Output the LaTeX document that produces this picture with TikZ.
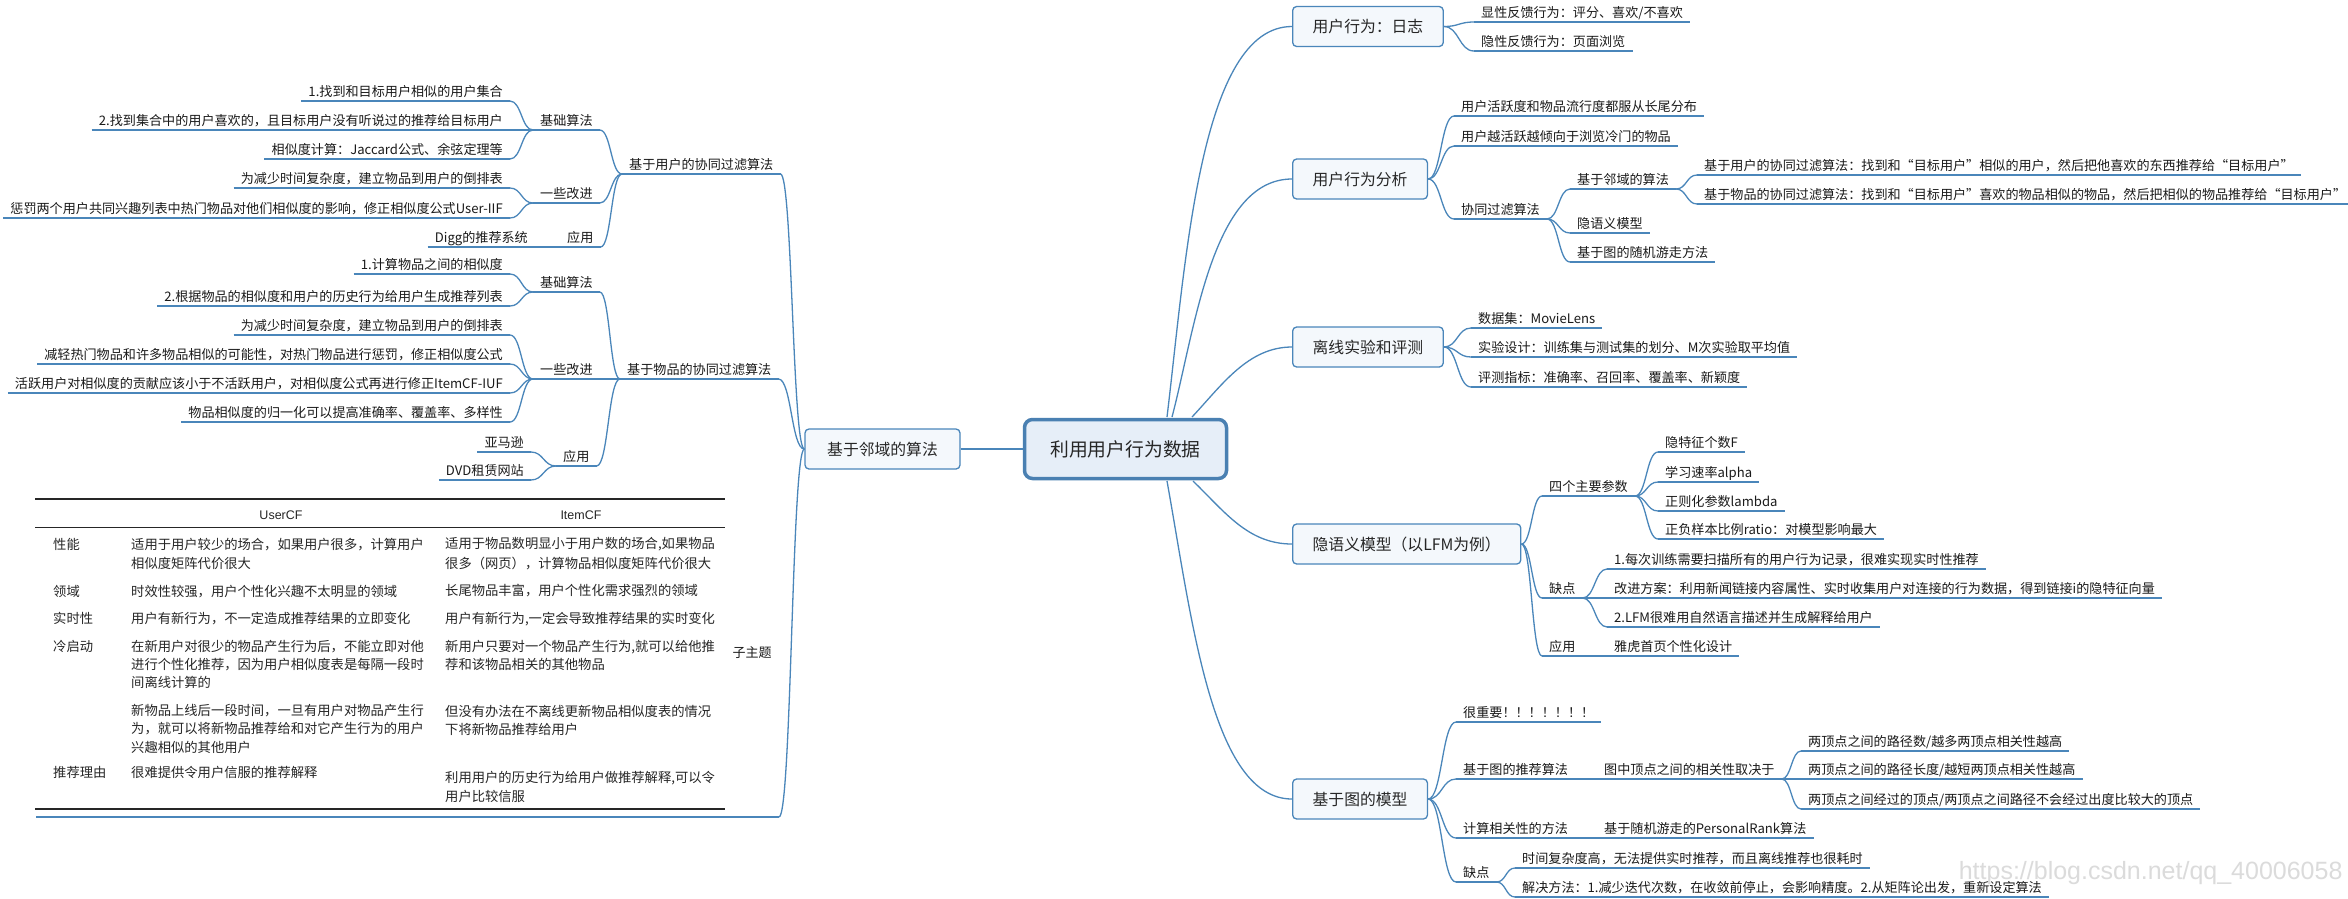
\documentclass[tikz,border=0pt]{standalone}
\usepackage{fontspec}
\setmainfont{Noto Sans CJK SC}
\newfontfamily\latinsans{Liberation Sans}
\usetikzlibrary{calc}

\definecolor{mmline}{HTML}{4A86BA}
\definecolor{boxfill}{HTML}{F4F8FC}
\definecolor{rootfill}{HTML}{E6EEF8}
\definecolor{rootline}{HTML}{4A80B2}
\definecolor{txt}{HTML}{1A1A1A}
\definecolor{tabtxt}{HTML}{262626}

% S-shaped branch between two points (horizontal tangents at both ends)
\newcommand\mmlink[2]{\draw[ln] let \p1=(#1), \p2=(#2) in
  (\p1) .. controls ({0.5*\x1+0.5*\x2},\y1) and ({0.5*\x1+0.5*\x2},\y2) .. (\p2);}
% underline of a label node
\newcommand\mmul[1]{\draw[ln] (#1.south west) -- (#1.south east);}

\begin{document}
\begin{tikzpicture}[x=1pt,y=-1pt,
  ln/.style={draw=mmline, line width=1.3pt},
  lbl/.style={font=\fontsize{13.1}{14}\selectfont, text=txt, inner xsep=7pt,
    inner ysep=4.5pt, text height=10pt, text depth=0pt},
  rl/.style={lbl, anchor=south west},
  ll/.style={lbl, anchor=south east},
  topic/.style={draw=mmline, line width=1.3pt, fill=boxfill, rounded corners=4pt,
    font=\fontsize{15.8}{18}\selectfont, text=black!85, inner xsep=20pt,
    inner ysep=0pt, minimum height=40pt, anchor=west},
  root/.style={draw=rootline, line width=3.5pt, fill=rootfill, rounded corners=8pt,
    font=\fontsize{18.8}{22}\selectfont, text=black!85, minimum width=202pt,
    minimum height=59pt},
  tc/.style={font=\fontsize{13.3}{15}\selectfont, text=tabtxt, anchor=west,
    inner sep=0pt, text height=10pt, text depth=0pt},
  th/.style={font=\latinsans\fontsize{12.5}{14}\selectfont, text=tabtxt},
  rule/.style={draw=black!85}
]
\fill[white] (0,0) rectangle (2348,898);
\useasboundingbox (0,0) rectangle (2348,898);

% watermark
\node[font=\latinsans\fontsize{25}{28}\selectfont, text=black!14, anchor=east]
  (wm) at (2346,873) {https://blog.csdn.net/qq\_40006058};

% ---------------- central topic ----------------
\node[root] (root) at (1125.5,449) {利用用户行为数据};
\node[topic, anchor=center, minimum width=155pt] (nb) at (882.5,449) {基于邻域的算法};
\draw[ln] (nb.east) -- (root.west);

% ---------------- main topics on the right ----------------
\node[topic] (b1) at (1292,26.5) {用户行为：日志};
\node[topic] (b2) at (1292,179) {用户行为分析};
\node[topic] (b3) at (1292,347) {离线实验和评测};
\node[topic] (b4) at (1292,544) {隐语义模型（以LFM为例）};
\node[topic] (b5) at (1292,799) {基于图的模型};

\coordinate (s1) at (1167,417);
\coordinate (s2) at (1172,417);
\coordinate (s3) at (1192,417);
\coordinate (s4) at (1193,481);
\coordinate (s5) at (1167,481);
\draw[ln] (s1) .. controls (1186,260) and (1200,26.5) .. (b1.west);
\draw[ln] (s2) .. controls (1195,330) and (1212,179) .. (b2.west);
\draw[ln] (s3) .. controls (1222,385) and (1248,347) .. (b3.west);
\draw[ln] (s4) .. controls (1225,512) and (1248,544) .. (b4.west);
\draw[ln] (s5) .. controls (1192,620) and (1212,799) .. (b5.west);

% ---------------- user based CF (left) ----------------
\node[ll] (u1) at (510,101) {1.找到和目标用户相似的用户集合};
\node[ll] (u2) at (510,130) {2.找到集合中的用户喜欢的，且目标用户没有听说过的推荐给目标用户};
\node[ll] (u3) at (510,159) {相似度计算：Jaccard公式、余弦定理等};
\node[rl] (ub) at (533,130) {基础算法};
\node[ll] (u4) at (510,188) {为减少时间复杂度，建立物品到用户的倒排表};
\node[ll] (u5) at (510,218) {惩罚两个用户共同兴趣列表中热门物品对他们相似度的影响，修正相似度公式User-IIF};
\node[rl] (ui) at (533,203) {一些改进};
\node[ll] (u6) at (535,247) {Digg的推荐系统};
\node[rl] (ua) at (560,247) {应用};
\node[rl] (uu) at (622,174) {基于用户的协同过滤算法};
\foreach \q in {u1,u2,u3,ub,u4,u5,ui,u6,ua,uu} {\mmul{\q}}
\foreach \q in {u1,u2,u3} {\mmlink{\q.south east}{ub.south west}}
\foreach \q in {u4,u5} {\mmlink{\q.south east}{ui.south west}}
\draw[ln] (u6.south east) -- (ua.south west);
\foreach \q in {ub,ui,ua} {\mmlink{\q.south east}{uu.south west}}

% ---------------- item based CF (left) ----------------
\node[ll] (i1) at (510,274) {1.计算物品之间的相似度};
\node[ll] (i2) at (510,306) {2.根据物品的相似度和用户的历史行为给用户生成推荐列表};
\node[rl] (ib) at (533,292) {基础算法};
\node[ll] (i3) at (510,335) {为减少时间复杂度，建立物品到用户的倒排表};
\node[ll] (i4) at (510,364) {减轻热门物品和许多物品相似的可能性，对热门物品进行惩罚，修正相似度公式};
\node[ll] (i5) at (510,393) {活跃用户对相似度的贡献应该小于不活跃用户，对相似度公式再进行修正ItemCF-IUF};
\node[ll] (i6) at (510,422) {物品相似度的归一化可以提高准确率、覆盖率、多样性};
\node[rl] (ii) at (533,379) {一些改进};
\node[ll] (i7) at (531,452) {亚马逊};
\node[ll] (i8) at (531,480) {DVD租赁网站};
\node[rl] (ia) at (556,466) {应用};
\node[rl] (iu) at (620,379) {基于物品的协同过滤算法};
\foreach \q in {i1,i2,ib,i3,i4,i5,i6,ii,i7,i8,ia,iu} {\mmul{\q}}
\foreach \q in {i1,i2} {\mmlink{\q.south east}{ib.south west}}
\foreach \q in {i3,i4,i5,i6} {\mmlink{\q.south east}{ii.south west}}
\foreach \q in {i7,i8} {\mmlink{\q.south east}{ia.south west}}
\foreach \q in {ib,ii,ia} {\mmlink{\q.south east}{iu.south west}}

% ---------------- comparison table topic ----------------
\coordinate (subL) at (36,817);
\coordinate (subR) at (779,817);
\draw[ln] (subL) -- (subR);
\node[font=\fontsize{13}{15}\selectfont, text=txt] (sub) at (752,653) {子主题};

\mmlink{uu.south east}{nb.west}
\mmlink{iu.south east}{nb.west}
\mmlink{subR}{nb.west}

\draw[rule, line width=2pt] (35,499) -- (725,499);
\draw[rule, line width=0.9pt] (35,527) -- (725,527);
\draw[rule, line width=2.4pt] (35,809) -- (725,809);
\node[th] (hu) at (281,515) {UserCF};
\node[th] (hi) at (581,515) {ItemCF};

\node[tc] (k1) at (53,544) {性能};
\node[tc] (k2) at (53,591) {领域};
\node[tc] (k3) at (53,618) {实时性};
\node[tc] (k4) at (53,646) {冷启动};
\node[tc] (k5) at (53,772) {推荐理由};

\node[tc] (ua1) at (131,544) {适用于用户较少的场合，如果用户很多，计算用户};
\node[tc] (ua2) at (131,563) {相似度矩阵代价很大};
\node[tc] (ub1) at (131,591) {时效性较强，用户个性化兴趣不太明显的领域};
\node[tc] (uc1) at (131,618) {用户有新行为，不一定造成推荐结果的立即变化};
\node[tc] (ud1) at (131,646) {在新用户对很少的物品产生行为后，不能立即对他};
\node[tc] (ud2) at (131,664) {进行个性化推荐，因为用户相似度表是每隔一段时};
\node[tc] (ud3) at (131,682) {间离线计算的};
\node[tc] (ue1) at (131,710) {新物品上线后一段时间，一旦有用户对物品产生行};
\node[tc] (ue2) at (131,728) {为，就可以将新物品推荐给和对它产生行为的用户};
\node[tc] (ue3) at (131,747) {兴趣相似的其他用户};
\node[tc] (uf1) at (131,772) {很难提供令用户信服的推荐解释};

\node[tc] (ia1) at (445,543) {适用于物品数明显小于用户数的场合,如果物品};
\node[tc] (ia2) at (445,563) {很多（网页），计算物品相似度矩阵代价很大};
\node[tc] (ib1) at (445,590) {长尾物品丰富，用户个性化需求强烈的领域};
\node[tc] (ic1) at (445,618) {用户有新行为,一定会导致推荐结果的实时变化};
\node[tc] (id1) at (445,646) {新用户只要对一个物品产生行为,就可以给他推};
\node[tc] (id2) at (445,664) {荐和该物品相关的其他物品};
\node[tc] (ie1) at (445,711) {但没有办法在不离线更新物品相似度表的情况};
\node[tc] (ie2) at (445,729) {下将新物品推荐给用户};
\node[tc] (if1) at (445,777) {利用用户的历史行为给用户做推荐解释,可以令};
\node[tc] (if2) at (445,796) {用户比较信服};

% ---------------- right side labels ----------------
\node[rl] (r11) at (1474,22) {显性反馈行为：评分、喜欢/不喜欢};
\node[rl] (r12) at (1474,51) {隐性反馈行为：页面浏览};

\node[rl] (r21) at (1454,116) {用户活跃度和物品流行度都服从长尾分布};
\node[rl] (r22) at (1454,146) {用户越活跃越倾向于浏览冷门的物品};
\node[rl] (r23) at (1454,219) {协同过滤算法};
\node[rl] (r231) at (1570,189) {基于邻域的算法};
\node[rl] (r2311) at (1697,175) {基于用户的协同过滤算法：找到和“目标用户”相似的用户，然后把他喜欢的东西推荐给“目标用户”};
\node[rl] (r2312) at (1697,204) {基于物品的协同过滤算法：找到和“目标用户”喜欢的物品相似的物品，然后把相似的物品推荐给“目标用户”};
\node[rl] (r232) at (1570,233) {隐语义模型};
\node[rl] (r233) at (1570,262) {基于图的随机游走方法};

\node[rl] (r31) at (1471,328) {数据集：MovieLens};
\node[rl] (r32) at (1471,357) {实验设计：训练集与测试集的划分、M次实验取平均值};
\node[rl] (r33) at (1471,387) {评测指标：准确率、召回率、覆盖率、新颖度};

\node[rl] (r41) at (1542,496) {四个主要参数};
\node[rl] (r411) at (1658,452) {隐特征个数F};
\node[rl] (r412) at (1658,482) {学习速率alpha};
\node[rl] (r413) at (1658,511) {正则化参数lambda};
\node[rl] (r414) at (1658,539) {正负样本比例ratio：对模型影响最大};
\node[rl] (r42) at (1542,598) {缺点};
\node[rl] (r421) at (1607,569) {1.每次训练需要扫描所有的用户行为记录，很难实现实时性推荐};
\node[rl] (r422) at (1607,598) {改进方案：利用新闻链接内容属性、实时收集用户对连接的行为数据，得到链接i的隐特征向量};
\node[rl] (r423) at (1607,627) {2.LFM很难用自然语言描述并生成解释给用户};
\node[rl] (r43) at (1542,656) {应用};
\node[rl] (r431) at (1607,656) {雅虎首页个性化设计};

\node[rl] (r51) at (1456,722) {很重要！！！！！！！};
\node[rl] (r52) at (1456,779) {基于图的推荐算法};
\node[rl] (r521) at (1597,779) {图中顶点之间的相关性取决于};
\node[rl] (r5211) at (1801,751) {两顶点之间的路径数/越多两顶点相关性越高};
\node[rl] (r5212) at (1801,779) {两顶点之间的路径长度/越短两顶点相关性越高};
\node[rl] (r5213) at (1801,809) {两顶点之间经过的顶点/两顶点之间路径不会经过出度比较大的顶点};
\node[rl] (r53) at (1456,838) {计算相关性的方法};
\node[rl] (r531) at (1597,838) {基于随机游走的PersonalRank算法};
\node[rl] (r54) at (1456,882) {缺点};
\node[rl] (r541) at (1515,868) {时间复杂度高，无法提供实时推荐，而且离线推荐也很耗时};
\node[rl] (r542) at (1515,897) {解决方法：1.减少迭代次数，在收敛前停止，会影响精度。2.从矩阵论出发，重新设定算法};

\foreach \q in {r11,r12,r21,r22,r23,r231,r2311,r2312,r232,r233,r31,r32,r33,
  r41,r411,r412,r413,r414,r42,r421,r422,r423,r43,r431,
  r51,r52,r521,r5211,r5212,r5213,r53,r531,r54,r541,r542} {\mmul{\q}}

\foreach \q in {r11,r12} {\mmlink{b1.east}{\q.south west}}
\foreach \q in {r21,r22,r23} {\mmlink{b2.east}{\q.south west}}
\foreach \q in {r231,r232,r233} {\mmlink{r23.south east}{\q.south west}}
\foreach \q in {r2311,r2312} {\mmlink{r231.south east}{\q.south west}}
\foreach \q in {r31,r32,r33} {\mmlink{b3.east}{\q.south west}}
\foreach \q in {r41,r42,r43} {\mmlink{b4.east}{\q.south west}}
\foreach \q in {r411,r412,r413,r414} {\mmlink{r41.south east}{\q.south west}}
\foreach \q in {r421,r422,r423} {\mmlink{r42.south east}{\q.south west}}
\draw[ln] (r43.south east) -- (r431.south west);
\foreach \q in {r51,r52,r53,r54} {\mmlink{b5.east}{\q.south west}}
\draw[ln] (r52.south east) -- (r521.south west);
\foreach \q in {r5211,r5212,r5213} {\mmlink{r521.south east}{\q.south west}}
\draw[ln] (r53.south east) -- (r531.south west);
\foreach \q in {r541,r542} {\mmlink{r54.south east}{\q.south west}}

\end{tikzpicture}
\end{document}
